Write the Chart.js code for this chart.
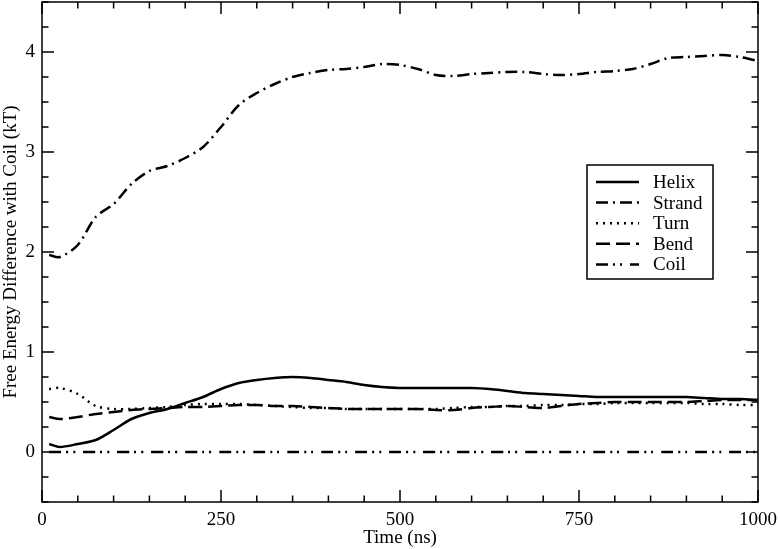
<!DOCTYPE html>
<html>
<head>
<meta charset="utf-8">
<script src="https://cdn.jsdelivr.net/npm/chart.js"></script>
<style>
  body { margin: 0; background: #fff; }
</style>
</head>
<body>
<canvas id="grafico" width="780" height="549"></canvas>
<script>
// tempos (ns) e valores
const tempos = [10, 25, 50, 75, 100, 125, 150, 175, 200, 225, 250, 275, 300, 325, 350, 375, 400, 425, 450, 475, 500,
  525, 550, 575, 600, 625, 650, 675, 700, 725, 750, 775, 800, 825, 850, 875, 900, 925, 950, 975, 1000];

const helix = [0.08, 0.05, 0.08, 0.12, 0.22, 0.33, 0.39, 0.43, 0.49, 0.55, 0.63, 0.69, 0.72, 0.74, 0.75, 0.74, 0.72, 0.70, 0.67, 0.65, 0.64,
  0.64, 0.64, 0.64, 0.64, 0.63, 0.61, 0.59, 0.58, 0.57, 0.56, 0.55, 0.55, 0.55, 0.55, 0.55, 0.55, 0.54, 0.53, 0.53, 0.52];

const strand = [1.97, 1.95, 2.07, 2.35, 2.48, 2.68, 2.81, 2.86, 2.94, 3.05, 3.25, 3.47, 3.59, 3.68, 3.75, 3.79, 3.82, 3.83, 3.85, 3.88, 3.87,
  3.83, 3.77, 3.76, 3.78, 3.79, 3.80, 3.80, 3.78, 3.77, 3.78, 3.80, 3.81, 3.83, 3.88, 3.94, 3.95, 3.96, 3.97, 3.95, 3.91];

const turn = [0.63, 0.64, 0.58, 0.46, 0.43, 0.43, 0.44, 0.45, 0.47, 0.48, 0.48, 0.48, 0.47, 0.46, 0.45, 0.44, 0.44, 0.43, 0.43, 0.43, 0.43,
  0.43, 0.43, 0.44, 0.45, 0.45, 0.46, 0.46, 0.47, 0.47, 0.48, 0.48, 0.49, 0.49, 0.49, 0.49, 0.49, 0.48, 0.48, 0.47, 0.47];

const bend = [0.35, 0.33, 0.35, 0.38, 0.40, 0.42, 0.43, 0.44, 0.45, 0.45, 0.46, 0.47, 0.47, 0.46, 0.46, 0.45, 0.44, 0.43, 0.43, 0.43, 0.43,
  0.43, 0.42, 0.42, 0.44, 0.45, 0.46, 0.45, 0.44, 0.46, 0.48, 0.49, 0.50, 0.50, 0.50, 0.50, 0.50, 0.51, 0.52, 0.52, 0.52];

const coil = [0, 0, 0, 0, 0, 0, 0, 0, 0, 0, 0, 0, 0, 0, 0, 0, 0, 0, 0, 0, 0,
  0, 0, 0, 0, 0, 0, 0, 0, 0, 0, 0, 0, 0, 0, 0, 0, 0, 0, 0, 0];

const ticksX = [0, 250, 500, 750, 1000];
const ticksY = [0, 1, 2, 3, 4];

const fonte = 'Liberation Serif';

function pontos(valores) {
  return valores.map((v, i) => ({ x: tempos[i], y: v }));
}

function serie(nome, valores, tracejado) {
  return {
    label: nome,
    data: pontos(valores),
    borderColor: '#000',
    borderWidth: 2.5,
    borderDash: tracejado,
    pointRadius: 0,
    tension: 0.3,
    fill: false
  };
}

// zera o padding automático que o chart.js coloca nas escalas
function semPadding(s) {
  s.paddingTop = 0;
  s.paddingBottom = 0;
  s.paddingLeft = 0;
  s.paddingRight = 0;
}

// moldura, marcas internas e legenda desenhadas por cima
const molduraPlugin = {
  id: 'moldura',
  afterDraw(chart) {
    const ctx = chart.ctx;
    const area = chart.chartArea;
    const sx = chart.scales.x;
    const sy = chart.scales.y;
    ctx.save();
    ctx.strokeStyle = '#000';
    ctx.lineWidth = 1.5;
    ctx.setLineDash([]);
    ctx.strokeRect(area.left, area.top, area.right - area.left, area.bottom - area.top);

    ctx.beginPath();
    for (let v = 0; v <= 1000; v += 50) {
      const px = sx.getPixelForValue(v);
      const len = v % 250 === 0 ? 12 : 6.5;
      ctx.moveTo(px, area.bottom); ctx.lineTo(px, area.bottom - len);
      ctx.moveTo(px, area.top); ctx.lineTo(px, area.top + len);
    }
    for (let v = -0.5; v <= 4.5; v += 0.25) {
      const py = sy.getPixelForValue(v);
      const len = Math.abs(v - Math.round(v)) < 0.001 ? 12 : 6.5;
      ctx.moveTo(area.left, py); ctx.lineTo(area.left + len, py);
      ctx.moveTo(area.right, py); ctx.lineTo(area.right - len, py);
    }
    ctx.stroke();

    // legenda
    const caixa = { x: 587, y: 165, w: 126, h: 114 };
    ctx.fillStyle = '#fff';
    ctx.fillRect(caixa.x, caixa.y, caixa.w, caixa.h);
    ctx.strokeRect(caixa.x, caixa.y, caixa.w, caixa.h);
    ctx.font = '19px "' + fonte + '"';
    ctx.textBaseline = 'middle';
    ctx.fillStyle = '#000';
    chart.data.datasets.forEach((ds, i) => {
      const y = 182 + i * 20.6;
      ctx.beginPath();
      ctx.lineWidth = 2.5;
      ctx.setLineDash(ds.borderDash || []);
      ctx.moveTo(596, y);
      ctx.lineTo(639, y);
      ctx.stroke();
      ctx.setLineDash([]);
      ctx.fillText(ds.label, 653, y + 1);
    });
    ctx.restore();
  }
};

const grafico = new Chart(document.getElementById('grafico'), {
  type: 'line',
  data: {
    datasets: [
      serie('Helix', helix, []),
      serie('Strand', strand, [12, 5, 2, 5]),
      serie('Turn', turn, [2, 5]),
      serie('Bend', bend, [14, 6]),
      serie('Coil', coil, [12, 5, 2, 5, 2, 8])
    ]
  },
  options: {
    responsive: false,
    animation: false,
    layout: { autoPadding: false, padding: { top: 2, right: 22, bottom: 0, left: 0 } },
    plugins: { legend: { display: false }, tooltip: { enabled: false } },
    scales: {
      x: {
        type: 'linear',
        min: 0,
        max: 1000,
        afterBuildTicks: (s) => { s.ticks = ticksX.map(v => ({ value: v })); },
        afterFit: (s) => { s.height = 47; semPadding(s); },
        grid: { display: false, drawTicks: false },
        border: { display: false },
        ticks: { color: '#000', padding: 7, maxRotation: 0, callback: (v) => String(v), font: { family: fonte, size: 19 } },
        title: { display: true, text: 'Time (ns)', color: '#000', padding: 0, font: { family: fonte, size: 19 } }
      },
      y: {
        type: 'linear',
        min: -0.5,
        max: 4.5,
        afterBuildTicks: (s) => { s.ticks = ticksY.map(v => ({ value: v })); },
        afterFit: (s) => { s.width = 42; semPadding(s); },
        grid: { display: false, drawTicks: false },
        border: { display: false },
        ticks: { color: '#000', padding: 7, callback: (v) => String(v), font: { family: fonte, size: 19 } },
        title: { display: true, text: 'Free Energy Difference with Coil (kT)', color: '#000', padding: 0, font: { family: fonte, size: 19 } }
      }
    }
  },
  plugins: [molduraPlugin]
});
</script>
</body>
</html>
